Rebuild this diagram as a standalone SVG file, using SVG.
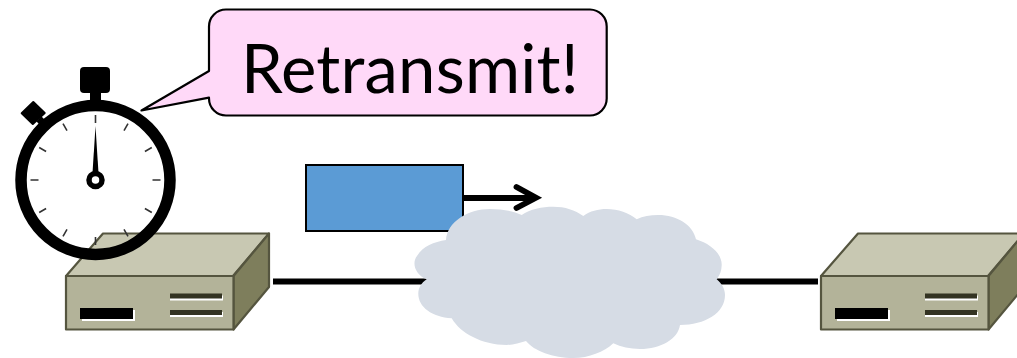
<svg xmlns="http://www.w3.org/2000/svg" xmlns:xlink="http://www.w3.org/1999/xlink" width="1017" height="358" viewBox="0 0 1017 358">
<style>
.edge{fill:none;stroke:#000;stroke-width:5.800}
.rim{stroke:#55553f;stroke-width:2.200;stroke-linejoin:round}
.tick{stroke:#333;stroke-width:1.6}
.label{font-family:"Lato","Liberation Sans",sans-serif;font-size:67px;letter-spacing:.2px;fill:#000}
</style>
<defs>
<g id="router">
<path class="rim" fill="#c8c8b2" d="M66 276L103 233.500H269L233 276Z"/>
<path class="rim" fill="#7e7e5c" d="M233.500 276L269 233.500V287L233.500 329.500Z"/>
<rect class="rim" fill="#b3b399" x="66" y="276" width="167.500" height="53.500"/>
<rect x="82" y="310" width="53" height="11" fill="#fff"/>
<rect x="80" y="308" width="53" height="11" fill="#000"/>
<rect x="170" y="295.500" width="53" height="5" fill="#fff"/>
<rect x="170" y="293.500" width="52" height="5" fill="#333322"/>
<rect x="170" y="312" width="53" height="5" fill="#fff"/>
<rect x="170" y="310" width="52" height="5" fill="#333322"/>
</g>
</defs>
<g id="packet"><rect x="306" y="165" width="157" height="66" fill="#5b9bd5" stroke="#000" stroke-width="2"/></g>
<g id="connectors">
<path class="edge" d="M273 281.500H818"/>
<path class="edge" d="M463 198H536"/>
<path class="edge" stroke-linecap="round" stroke-linejoin="miter" d="M516.500 187L536 197.700L516.500 208"/>
</g>
<g id="router-left"><use href="#router" xlink:href="#router"/></g>
<g id="router-right"><use href="#router" xlink:href="#router" x="755"/></g>
<g id="cloud"><path fill="#d6dce5" d="M426.700 279.300C414 274 412 262 417 256C423 246 434 242 446 240C447 222 468 209 490 209C502 209 513 211 521.700 215C530 209 542 206.700 553.300 206.700C565 206.700 575 210 583.300 216C590 211 598 209 606.700 209C618 209 629 213 636.700 219.300C643 216 650 215 658.300 215C677 215 693 225 696 239.300C711 244 722 254 721.700 265C721.500 271 720 275 716.700 279.300C722 284 725 289 725 295C725 313 705 325 680 325C678 339 661 349 640 349C630 349 621 347 613.300 343.300C604 352 589 358 573.300 358C553 358 534 351 526 341C520 343 513 345 506.700 345C482 345 460 333 451.700 318.300C432 317 418 307 418.300 293.300C418.500 288 421 283 426.700 279.300Z"/></g>
<g id="stopwatch">
<circle cx="95.500" cy="180" r="74.500" fill="none" stroke="#000" stroke-width="11.500"/>
<rect x="80" y="67" width="30" height="26" rx="4" fill="#000"/>
<rect x="90" y="90" width="11" height="14" fill="#000"/>
<path d="M33.300 102L44.700 113L32.800 124L21.700 113.300Z" fill="#000" stroke="#000" stroke-width="2" stroke-linejoin="round"/>
<path d="M36.500 121.500L41.500 116.500L46.500 121.500L41.500 126.500Z" fill="#000"/>
<g class="tick">
<path d="M95.500 115V123M95.500 237V245M30.500 180H38.500M152.500 180H160.500"/>
<path d="M63 123.700L67 130.600M124 229.400L128 236.300M39.200 147.500L46.100 151.500M144.900 208.500L151.800 212.500"/>
<path d="M128 123.700L124 130.600M67 229.400L63 236.300M151.800 147.500L144.900 151.500M46.100 208.500L39.200 212.500"/>
</g>
<path d="M95.500 126L98.800 178H92.200Z" fill="#000"/>
<circle cx="95.500" cy="180" r="6.500" fill="#fff" stroke="#000" stroke-width="5.500"/>
</g>
<g id="callout">
<path fill="#ffd9f8" stroke="#000" stroke-width="2.200" stroke-linejoin="round" d="M226 9.500H590A17 17 0 0 1 606.700 26.500V98.500A17 17 0 0 1 590 115.500H226A17 17 0 0 1 209 98.500V97.700L141.500 110.500L209 71V26.500A17 17 0 0 1 226 9.500Z"/>
<text class="label" x="241" y="93">Retransmit!</text>
</g>
</svg>
